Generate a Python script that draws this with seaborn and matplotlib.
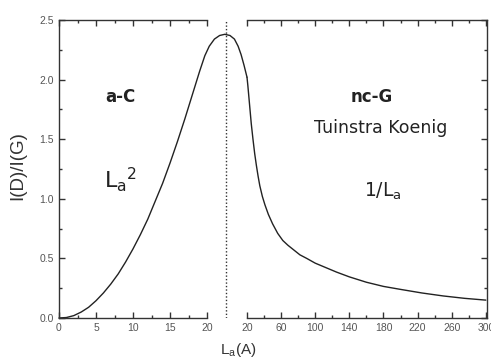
import matplotlib
matplotlib.use("Agg")
import matplotlib.pyplot as plt
import seaborn as sns
from matplotlib.ticker import FixedLocator, NullFormatter

# Amorphous-carbon branch: I(D)/I(G) grows ~ La^2 up to the maximum (left scale, Å)
la_small = [0, 1, 2, 3, 4, 5, 6, 7, 8, 9, 10, 11, 12, 13, 14, 15, 16, 17, 18, 19,
            19.7, 20.3, 21, 21.7, 22.4, 23.1, 23.7, 24.2, 24.6, 25.0, 25.4]
ratio_small = [0.0, 0.004, 0.02, 0.05, 0.09, 0.145, 0.21, 0.285, 0.37, 0.47, 0.58,
               0.70, 0.83, 0.98, 1.13, 1.30, 1.48, 1.67, 1.87, 2.07, 2.20, 2.28, 2.34,
               2.37, 2.38, 2.37, 2.34, 2.28, 2.21, 2.12, 2.02]

# Nanocrystalline-graphite branch: Tuinstra-Koenig 1/La decay (right scale, Å)
la_large = [20, 21, 22, 23, 24, 25, 27, 29, 31, 33, 35, 38, 41, 45, 50, 56, 62, 68,
            75, 82, 90, 100, 110, 125, 140, 160, 180, 200, 225, 250, 275, 300]
ratio_large = [2.02, 1.95, 1.87, 1.79, 1.71, 1.63, 1.50, 1.38, 1.28, 1.19, 1.11, 1.02,
               0.95, 0.87, 0.79, 0.71, 0.65, 0.61, 0.57, 0.53, 0.50, 0.46, 0.43, 0.385,
               0.345, 0.30, 0.265, 0.24, 0.21, 0.185, 0.165, 0.15]

transition_la = 22.6

left_major = [0, 5, 10, 15, 20]
left_minor = [2.5, 7.5, 12.5, 17.5]
right_major = [20, 60, 100, 140, 180, 220, 260, 300]
right_minor = [40, 80, 120, 160, 200, 240, 280]
y_major = [0.0, 0.5, 1.0, 1.5, 2.0, 2.5]
y_minor = [0.25, 0.75, 1.25, 1.75, 2.25]

sns.set_style("ticks")
plt.rcParams["font.family"] = ["Liberation Sans", "DejaVu Sans"]
plt.rcParams["mathtext.fontset"] = "custom"
plt.rcParams["mathtext.rm"] = "Liberation Sans"

W, H = 491, 362
fig = plt.figure(figsize=(W / 100, H / 100), dpi=100)
fig.patch.set_facecolor("white")

x0, xsplit, x1 = 59, 247, 487
ytop, ybot = 20, 318
axL = fig.add_axes([x0 / W, (H - ybot) / H, (xsplit - x0) / W, (ybot - ytop) / H])
axR = fig.add_axes([xsplit / W, (H - ybot) / H, (x1 - xsplit) / W, (ybot - ytop) / H])
for ax in (axL, axR):
    ax.patch.set_alpha(0)

line_kw = dict(color="#222222", linewidth=1.0, estimator=None, sort=False, legend=False)
sns.lineplot(x=la_small, y=ratio_small, ax=axL, **line_kw)
sns.lineplot(x=la_large, y=ratio_large, ax=axR, **line_kw)
for ln in axL.lines + axR.lines:
    ln.set_clip_on(False)
    ln.set_solid_joinstyle("round")

axL.axvline(transition_la, color="#333333", linewidth=1.0, linestyle=(0, (1, 1.5)))

axL.set_xlim(0, 25.4)
axR.set_xlim(20, 20 + (x1 - xsplit) / 0.853)
for ax in (axL, axR):
    ax.set_ylim(0, 2.5)

spine_color = "#333333"
for ax in (axL, axR):
    for s in ax.spines.values():
        s.set_color(spine_color)
        s.set_linewidth(1.0)
axL.spines["right"].set_visible(False)
axL.spines["top"].set_visible(True)
axL.spines["bottom"].set_bounds(0, 20)
axL.spines["top"].set_bounds(0, 20)
axR.spines["left"].set_visible(False)
axR.spines["top"].set_visible(True)
axR.spines["right"].set_visible(True)

tick_kw = dict(direction="in", color=spine_color, labelcolor="#555555", labelsize=7.5)
axL.xaxis.set_major_locator(FixedLocator(left_major))
axL.xaxis.set_minor_locator(FixedLocator(left_minor))
axR.xaxis.set_major_locator(FixedLocator(right_major))
axR.xaxis.set_minor_locator(FixedLocator(right_minor))
axL.yaxis.set_major_locator(FixedLocator(y_major))
axL.yaxis.set_minor_locator(FixedLocator(y_minor))
axR.yaxis.set_major_locator(FixedLocator(y_major))
axR.yaxis.set_minor_locator(FixedLocator(y_minor))
axL.set_yticklabels([f"{v:.1f}" for v in y_major])

axL.tick_params(axis="both", which="major", length=4, width=1, top=True, right=False, **tick_kw)
axL.tick_params(axis="both", which="minor", length=2, width=1, top=True, right=False,
                direction="in", color=spine_color)
axR.tick_params(axis="both", which="major", length=4, width=1, top=True, right=True,
                left=False, labelleft=False, **tick_kw)
axR.tick_params(axis="both", which="minor", length=2, width=1, top=True, right=True,
                left=False, direction="in", color=spine_color)
axR.yaxis.set_major_formatter(NullFormatter())

axL.set_xlabel("")
axL.set_ylabel("")
axR.set_xlabel("")
axR.set_ylabel("")

fig.text(18 / W, 1 - 166 / H, "I(D)/I(G)", rotation=90, ha="center", va="center",
         fontsize=13.5, color="#333333")
fig.text(238 / W, 1 - 350 / H, r"L$_\mathregular{a}$(A)", ha="center", va="center",
         fontsize=11, color="#333333")

txt = dict(ha="center", va="center", color="#222222", family=["DejaVu Sans"])
fig.text(120 / W, 1 - 97 / H, "a-C", fontsize=12, fontweight="bold", **txt)
fig.text(121 / W, 1 - 180 / H, r"L$_\mathregular{a}$$^\mathregular{2}$", fontsize=16, **txt)
fig.text(372 / W, 1 - 97 / H, "nc-G", fontsize=12, fontweight="bold", **txt)
fig.text(381 / W, 1 - 128 / H, "Tuinstra Koenig", fontsize=12.5, **txt)
fig.text(383 / W, 1 - 191 / H, r"1/L$_\mathregular{a}$", fontsize=13.5, **txt)

fig.savefig("out.png", dpi=100, facecolor="white")
